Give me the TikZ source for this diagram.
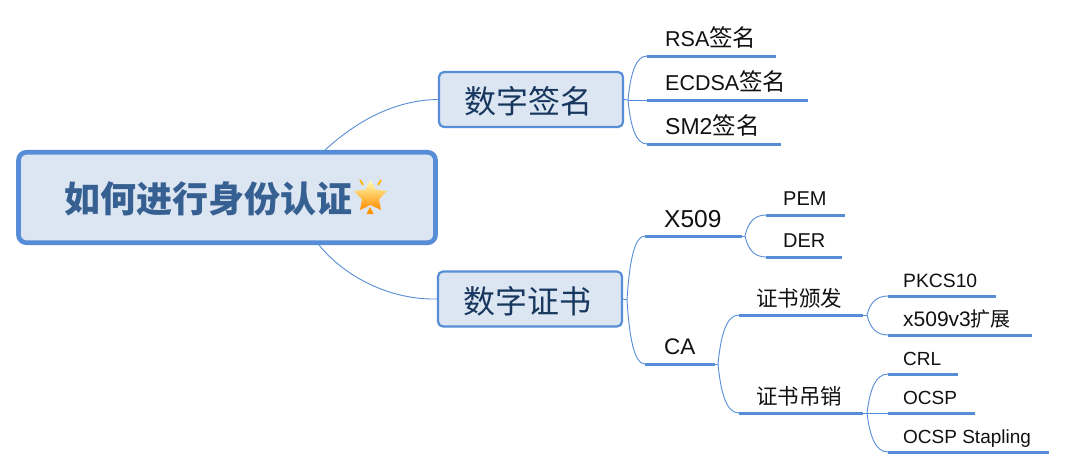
\documentclass[tikz,border=0pt]{standalone}
\usepackage{fontspec}
\setmainfont{Liberation Sans}
\newfontfamily\cjkfont{Noto Sans CJK SC}
\usetikzlibrary{calc,shapes.geometric}
\definecolor{mapblue}{HTML}{568DD6}
\definecolor{boxfill}{HTML}{DCE6F2}
\definecolor{rootink}{HTML}{376092}
\definecolor{mainink}{HTML}{17375E}
\definecolor{subink}{HTML}{111111}
\newcommand{\zh}[1]{{\fontsize{\zhsize}{\zhsize}\cjkfont\selectfont #1}}
\newcommand{\zhsize}{23.5}
\tikzset{
  conn/.style={draw=mapblue,line width=0.9pt},
  ulin/.style={draw=mapblue,line width=3pt},
  rootbox/.style={draw=mapblue,fill=boxfill,line width=4.7pt,rounded corners=8pt,minimum width=417pt,minimum height=90.5pt,inner sep=0pt},
  mainbox/.style={draw=mapblue,fill=boxfill,line width=2.2pt,rounded corners=5pt,minimum width=184pt,minimum height=55pt,inner sep=0pt},
  toptext/.style={anchor=base west,inner sep=0pt,text=subink},
}
% name, x0, x1, y, text x, baseline, latin size, zh size, content
\newcommand{\topicline}[9]{%
  \coordinate (#1-l) at (#2,#4);
  \coordinate (#1-r) at (#3,#4);
  \draw[ulin] (#1-l) -- (#1-r);
  \renewcommand{\zhsize}{#8}%
  \node[toptext,font={\fontsize{#7}{#7}\selectfont}] (#1) at (#5,#6) {#9};
}
\newcommand{\branch}[2]{%
  \draw[conn] let \p1=(#1),\p2=(#2) in (\p1) .. controls ({\x1+0.14*(\x2-\x1)},{\y1+0.62*(\y2-\y1)}) and ({\x1+0.42*(\x2-\x1)},{\y2}) .. (\p2);
}
\begin{document}
\begin{tikzpicture}[x=1pt,y=-1pt]
\useasboundingbox (0,0) rectangle (1067,469);
\fill[white] (0,0) rectangle (1067,469);

% main boxes
\node[rootbox] (root) at (227,197.5) {};
\node[mainbox] (sign) at (531,99.5) {};
\node[mainbox] (cert) at (530,299) {};

% root to main
\draw[conn] ($(root.north west)+(309,0)$) .. controls (360,118) and (398,100) .. (sign.west);
\draw[conn] ($(root.south west)+(303,0)$) .. controls (345,277) and (390,300) .. (cert.west);

% texts in boxes
\node[anchor=base west,inner sep=0pt,text=rootink,font={\fontsize{36}{36}\cjkfont\bfseries\selectfont}] (roottext) at (64,212) {如何进行身份认证};
\node[anchor=base west,inner sep=0pt,text=mainink,font={\fontsize{32}{32}\cjkfont\selectfont}] (signtext) at (464,113) {数字签名};
\node[anchor=base west,inner sep=0pt,text=mainink,font={\fontsize{32}{32}\cjkfont\selectfont}] (certtext) at (463,313) {数字证书};

% star
\shade[top color=yellow!30!white,middle color=yellow!70!orange,bottom color=orange!90!yellow] (370.5,180) -- (375.5,189.5) -- (387,191) -- (379,199.5) -- (381,210) -- (370.5,205) -- (360,210) -- (362,199.5) -- (354,191) -- (365.5,189.5) -- cycle;
\fill[orange!85!yellow] (370,207) -- (373.5,214) -- (366.5,214) -- cycle;
\draw[orange!60!yellow,line width=1.8pt] (360,180) -- (363,185);
\draw[orange!60!yellow,line width=1.8pt] (381,180) -- (378,185);

% signature branch
\coordinate (fa) at (628,100);
\draw[conn] (sign.east) -- (fa);
\topicline{rsa}{647}{776}{56}{665}{46}{21.5}{23.5}{RSA\zh{签名}}
\topicline{ecdsa}{647}{808}{100}{665}{90}{21.5}{23.5}{ECDSA\zh{签名}}
\topicline{smtwo}{647}{781}{144}{665}{134}{23}{23.5}{SM2\zh{签名}}
\branch{fa}{rsa-l}
\draw[conn] (fa) -- (ecdsa-l);
\branch{fa}{smtwo-l}

% certificate branch
\coordinate (fb) at (627,300);
\draw[conn] (cert.east) -- (fb);
\topicline{xfive}{645}{742}{236}{664}{227}{24.5}{24}{X509}
\topicline{ca}{645}{715}{364}{664}{354}{22.5}{24}{CA}
\branch{fb}{xfive-l}
\branch{fb}{ca-l}

% X509 children
\coordinate (fc) at (745,236);
\draw[conn] (xfive-r) -- (fc);
\topicline{pem}{766}{845}{215}{783}{205}{20}{20}{PEM}
\topicline{der}{766}{842}{257}{783}{247}{20}{20}{DER}
\branch{fc}{pem-l}
\branch{fc}{der-l}

% CA children
\coordinate (fd) at (718,364);
\draw[conn] (ca-r) -- (fd);
\topicline{issue}{739}{863}{315}{756}{306}{20}{21.5}{\zh{证书颁发}}
\topicline{revoke}{739}{863}{413}{756}{404}{20}{21.5}{\zh{证书吊销}}
\branch{fd}{issue-l}
\branch{fd}{revoke-l}

% issue children
\coordinate (fe) at (867,315);
\draw[conn] (issue-r) -- (fe);
\topicline{pkcs}{888}{996}{296}{903}{287}{19.3}{19}{PKCS10}
\topicline{xext}{888}{1032}{335}{903}{326}{21}{20}{x509v3\zh{扩展}}
\branch{fe}{pkcs-l}
\branch{fe}{xext-l}

% revoke children
\coordinate (ff) at (867,413);
\draw[conn] (revoke-r) -- (ff);
\topicline{crl}{888}{958}{374}{903}{365}{19}{19}{CRL}
\topicline{ocsp}{888}{975}{413}{903}{404}{19}{19}{OCSP}
\topicline{stap}{888}{1049}{452}{903}{443}{19}{19}{OCSP Stapling}
\branch{ff}{crl-l}
\draw[conn] (ff) -- (ocsp-l);
\branch{ff}{stap-l}
\end{tikzpicture}
\end{document}
